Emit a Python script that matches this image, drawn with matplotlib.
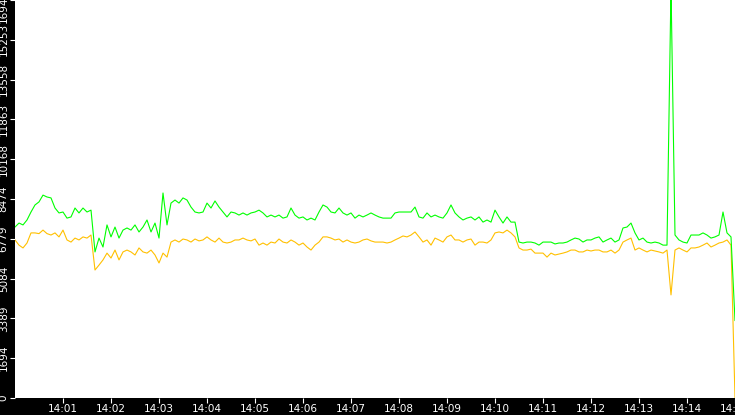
import matplotlib
matplotlib.use("Agg")
import matplotlib.pyplot as plt
import numpy as np

# samples every 5 s from 14:00:00 to 14:15:00
step_s = 5

green = [7280, 7450, 7370, 7580, 7920, 8220, 8350, 8640, 8560, 8520,
         8090, 7880, 7920, 7660, 7710, 8090, 7880, 8090, 7920, 8000,
         6220, 6810, 6430, 7370, 6860, 7280, 6810, 7150, 7240, 7150,
         7370, 7070, 7280, 7580, 7070, 7450, 6810, 8730, 7370, 8300,
         8430, 8300, 8520, 8430, 8130, 7920, 7880, 7920, 8300, 8090,
         8390, 8130, 7920, 7710, 7920, 7880, 7790, 7880, 7790, 7880,
         7920, 8000, 7880, 7710, 7790, 7710, 7790, 7660, 7710, 8090,
         7790, 7660, 7710, 7580, 7660, 7580, 7920, 8220, 8130, 7920,
         7880, 8090, 7880, 7790, 7880, 7660, 7790, 7710, 7790, 7880,
         7790, 7710, 7660, 7660, 7660, 7880, 7920, 7920, 7920, 7920,
         8130, 7710, 7660, 7880, 7710, 7790, 7710, 7660, 7880, 8220,
         7880, 7710, 7580, 7660, 7710, 7580, 7710, 7490, 7580, 7490,
         8000, 7710, 7450, 7710, 7490, 7490, 6640, 6600, 6640, 6640,
         6600, 6510, 6640, 6640, 6640, 6560, 6600, 6600, 6640, 6730,
         6810, 6770, 6640, 6730, 6730, 6810, 6860, 6640, 6730, 6810,
         6640, 6730, 7240, 7280, 7450, 7030, 6730, 6810, 6640, 6600,
         6640, 6600, 6510, 6510, 17500, 6940, 6730, 6640, 6600, 6940,
         6940, 6940, 7030, 6940, 6810, 6860, 6940, 7920, 7030, 6860,
         3300]

orange = [6730, 6510, 6390, 6600, 7030, 7030, 7000, 7150, 7000, 6940,
          7030, 6860, 7150, 6730, 6640, 6810, 6730, 6860, 6810, 6940,
          5450, 5660, 5880, 6170, 5960, 6300, 5880, 6220, 6300, 6220,
          6090, 6390, 6220, 6170, 6300, 6090, 5750, 6170, 6000, 6640,
          6730, 6640, 6770, 6730, 6640, 6770, 6690, 6730, 6860, 6730,
          6640, 6810, 6640, 6600, 6640, 6730, 6730, 6810, 6730, 6690,
          6770, 6510, 6600, 6510, 6640, 6600, 6770, 6640, 6600, 6730,
          6640, 6510, 6600, 6430, 6300, 6510, 6640, 6860, 6860, 6810,
          6730, 6770, 6640, 6730, 6640, 6600, 6640, 6730, 6770, 6690,
          6640, 6640, 6640, 6600, 6640, 6730, 6810, 6900, 6860, 6940,
          7070, 6860, 6640, 6730, 6510, 6810, 6730, 6640, 6860, 6940,
          6730, 6730, 6640, 6730, 6770, 6510, 6640, 6640, 6600, 6730,
          7030, 7070, 7030, 7150, 7030, 6860, 6390, 6300, 6300, 6340,
          6170, 6170, 6170, 6000, 6170, 6090, 6130, 6170, 6220, 6300,
          6300, 6220, 6220, 6300, 6260, 6300, 6300, 6220, 6220, 6300,
          6170, 6300, 6640, 6730, 6810, 6300, 6390, 6300, 6220, 6300,
          6260, 6220, 6170, 6300, 4390, 6300, 6390, 6300, 6220, 6390,
          6390, 6430, 6510, 6600, 6430, 6510, 6600, 6640, 6730, 6510,
          0]

y_ticks = [0, 1694, 3389, 5084, 6779, 8474, 10168, 11863, 13558, 15253, 16948]
x_labels = ["14:01", "14:02", "14:03", "14:04", "14:05", "14:06", "14:07",
            "14:08", "14:09", "14:10", "14:11", "14:12", "14:13", "14:14", "14:15"]

t = np.arange(len(green)) * step_s

fig = plt.figure(figsize=(7.35, 4.15), dpi=100, facecolor="black")
ax = fig.add_axes([15 / 735, 17 / 415, 720 / 735, 398 / 415])
ax.set_facecolor("white")

ax.plot(t, orange, color="#ffc000", lw=0.8)
ax.plot(t, green, color="#00ff00", lw=0.8)

ax.set_xlim(0, 900)
ax.set_ylim(0, y_ticks[-1])

ax.set_xticks(np.arange(1, len(x_labels) + 1) * 60)
ax.set_xticklabels(x_labels)
ax.set_yticks(y_ticks)
# top label is drawn separately, pushed down a bit like the original
ax.set_yticklabels([str(v) for v in y_ticks[:-1]] + [""])

for s in ax.spines.values():
    s.set_visible(False)

ax.tick_params(axis="both", colors="white", length=3.5, width=0.8,
               direction="out", labelsize=7.5, pad=1)
ax.tick_params(axis="y", labelrotation=90)
for lab in ax.get_yticklabels():
    lab.set_va("center")
    lab.set_ha("right")

ax.annotate(str(y_ticks[-1]), xy=(0, y_ticks[-1]), xycoords=("axes fraction", "data"),
            xytext=(-4.5, -4.5), textcoords="offset points", rotation=90,
            ha="right", va="center", color="white", fontsize=7.5,
            fontfamily="DejaVu Sans", annotation_clip=False)

fig.savefig("out.png", dpi=100, facecolor="black")
